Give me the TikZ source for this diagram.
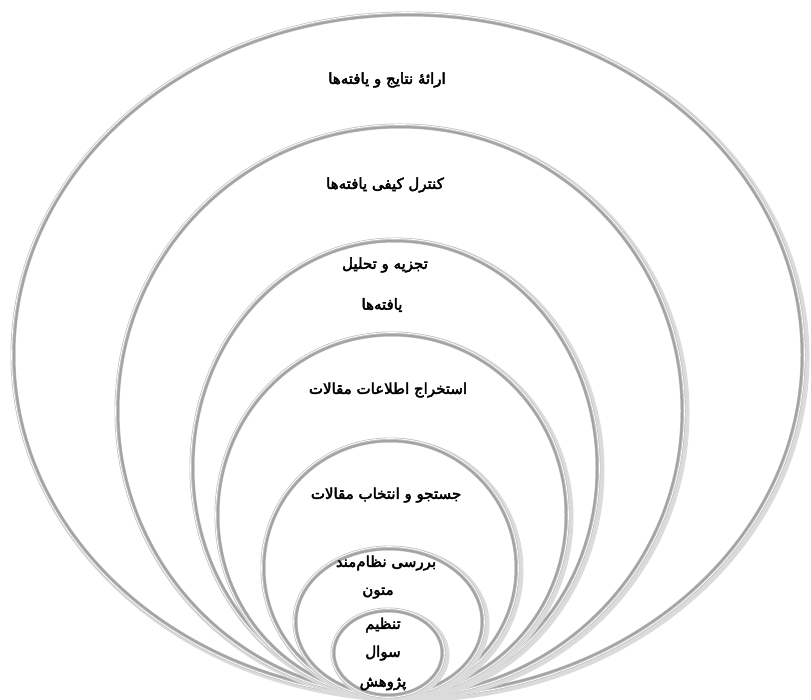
\documentclass[tikz,border=0pt]{standalone}
\usepackage{fontspec}
\TeXXeTstate=1
\newfontfamily\arabicfont[Script=Arabic, FakeBold=3]{DejaVu Sans}
\tikzset{
  ringshade/.style={draw=black!14, line width=8pt},
  ringbase/.style={draw=gray!50, line width=5pt, fill=white},
  ringdark/.style={draw=gray!72, line width=2pt},
  ringhi/.style={draw=white, line width=0.8pt},
  lbl/.style={font=\arabicfont\fontsize{15}{17}\selectfont, inner sep=0pt}
}
\newcommand\myring[4]{%
  \draw[ringshade] (#1+2.5,#2+2) ellipse [x radius=#3pt, y radius=#4pt];
  \draw[ringbase] (#1,#2) ellipse [x radius=#3pt, y radius=#4pt];
  \draw[ringdark] (#1,#2) ellipse [x radius=#3pt-1pt, y radius=#4pt-1pt];
  \draw[ringhi] (#1,#2) ellipse [x radius=#3pt+1.4pt, y radius=#4pt+1.4pt];
}
\begin{document}
\begin{tikzpicture}[x=1pt,y=-1pt]
\useasboundingbox (0,0) rectangle (811,700);
\fill[white] (0,0) rectangle (811,700);
\myring{408}{355}{395}{341}
\myring{400}{411}{283}{285}
\myring{395}{468}{203}{228}
\myring{392}{515}{175}{181}
\myring{390}{568}{127}{128}
\myring{389}{622}{94}{74}
\myring{388}{653}{55}{43}
\node[lbl] (t1) at (387,80) {\beginR ارائهٔ نتایج و یافته‌ها\endR};
\node[lbl] (t2) at (385,185) {\beginR کنترل کیفی یافته‌ها\endR};
\node[lbl] (t3a) at (385,265) {\beginR تجزیه و تحلیل\endR};
\node[lbl] (t3b) at (382,305) {\beginR یافته‌ها\endR};
\node[lbl] (t4) at (388,390) {\beginR استخراج اطلاعات مقالات\endR};
\node[lbl] (t5) at (386,495) {\beginR جستجو و انتخاب مقالات\endR};
\node[lbl] (t6a) at (386,563) {\beginR بررسی نظام‌مند\endR};
\node[lbl] (t6b) at (378,593) {\beginR متون\endR};
\node[lbl] (t7a) at (383,625) {\beginR تنظیم\endR};
\node[lbl] (t7b) at (383,653) {\beginR سوال\endR};
\node[lbl] (t7c) at (383,684) {\beginR پژوهش\endR};
\end{tikzpicture}
\end{document}
